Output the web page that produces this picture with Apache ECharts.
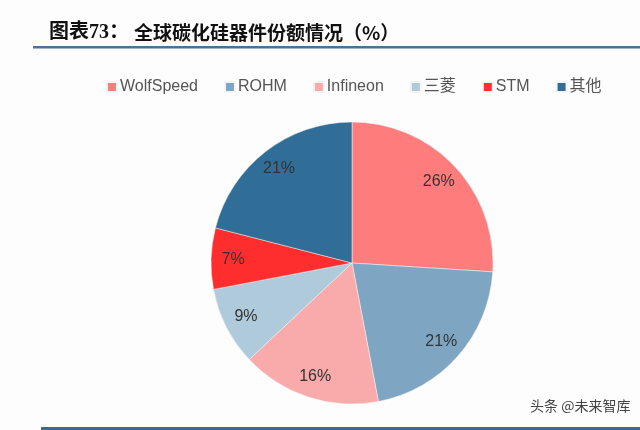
<!DOCTYPE html>
<html>
<head>
<meta charset="utf-8">
<script src="https://cdn.jsdelivr.net/npm/echarts@6/dist/echarts.min.js"></script>
<style>
html,body{margin:0;padding:0;background:#fdfdfd;}
#main{width:640px;height:430px;}
</style>
</head>
<body>
<div id="main"></div>
<script>
const categories = ['WolfSpeed', 'ROHM', 'Infineon', '三菱', 'STM', '其他'];
const shares = [26, 21, 16, 9, 7, 21];
const colors = ['#ff7c7c', '#7ea6c2', '#f9aaaa', '#aecadb', '#ff2e2e', '#306e97'];

const pieData = categories.map((name, i) => ({ name: name, value: shares[i] }));
const chart = echarts.init(document.getElementById('main'));
chart.setOption({
  backgroundColor: '#fdfdfd',
  animation: false,
  color: colors,
  title: {
    text: '{a|图表73：} {b|全球碳化硅器件份额情况（%）}',
    left: 44, top: 18,
    textStyle: {
      rich: {
        a: { fontFamily: 'Liberation Serif, Noto Sans CJK SC', fontWeight: 'bold', fontSize: 20, color: '#111' },
        b: { fontFamily: 'Noto Sans CJK SC', fontWeight: 'bold', fontSize: 19, color: '#111' }
      }
    }
  },
  legend: {
    data: categories,
    top: 74, left: 101,
    itemWidth: 10, itemHeight: 10, itemGap: 26,
    icon: 'rect',
    textStyle: { fontSize: 16, color: '#555', fontFamily: 'Liberation Sans, Noto Sans CJK SC', padding: [0, 0, 0, -2] }
  },
  graphic: [
    { type: 'rect', shape: { x: 33, y: 46, width: 607, height: 2.5 }, style: { fill: '#4a7198' } },
    { type: 'rect', shape: { x: 41, y: 427, width: 599, height: 3 }, style: { fill: '#3a6a96' } },
    { type: 'text', left: 530, top: 399, style: { text: '头条 @未来智库', fontSize: 14, fill: '#444', fontFamily: 'Noto Sans CJK SC' } }
  ],
  series: [
    {
      type: 'pie',
      center: [352, 263],
      radius: [0, 141],
      startAngle: 90,
      clockwise: true,
      data: pieData,
      label: { show: false },
      labelLine: { show: false },
      itemStyle: { borderColor: '#f4f4f4', borderWidth: 0.5 },
      emphasis: { disabled: true }
    },
    {
      type: 'pie',
      center: [352, 263],
      radius: [91, 141],
      startAngle: 90,
      clockwise: true,
      silent: true,
      data: pieData,
      itemStyle: { color: 'rgba(0,0,0,0)' },
      label: {
        show: true, position: 'inside',
        formatter: '{c}%',
        fontSize: 16, color: '#333', fontFamily: 'Liberation Sans'
      },
      labelLine: { show: false },
      legendHoverLink: false
    }
  ]
});
</script>
</body>
</html>
